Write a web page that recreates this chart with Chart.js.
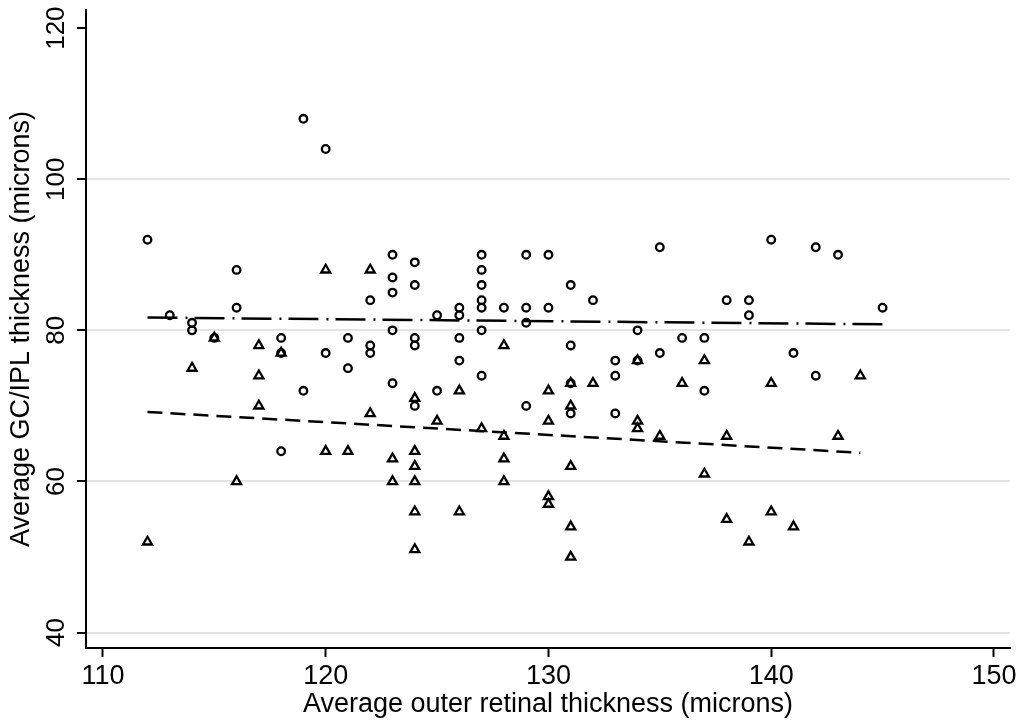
<!DOCTYPE html>
<html>
<head>
<meta charset="utf-8">
<script src="https://cdn.jsdelivr.net/npm/chart.js@4.4.1/dist/chart.umd.min.js"></script>
<style>
  html, body { margin: 0; padding: 0; background: #fff; }
  #wrap { width: 1026px; height: 726px; }
</style>
</head>
<body>
<div id="wrap"><canvas id="scatter" width="1026" height="726"></canvas></div>
<script>
// group 1 (hollow circles)
const circleX = [112, 113, 114, 114, 115, 116, 116, 118, 118, 118, 119, 119, 120, 120, 121, 121,
    122, 122, 122, 123, 123, 123, 123, 123, 124, 124, 124, 124, 124, 125, 125,
    126, 126, 126, 126, 127, 127, 127, 127, 127, 127, 127, 128, 129, 129, 129, 129,
    130, 130, 131, 131, 131, 131, 132, 133, 133, 133, 134, 134, 135, 135, 136,
    137, 137, 138, 139, 139, 140, 141, 142, 142, 143, 145];
const circleY = [92, 82, 81, 80, 79, 88, 83, 79, 77, 64, 108, 72, 104, 77, 79, 75,
    84, 78, 77, 90, 87, 85, 80, 73, 89, 86, 79, 78, 70, 82, 72,
    83, 82, 79, 76, 90, 88, 86, 84, 83, 80, 74, 83, 90, 83, 81, 70,
    90, 83, 86, 78, 73, 69, 84, 76, 74, 69, 80, 76, 91, 77, 79,
    79, 72, 84, 84, 82, 92, 77, 91, 74, 90, 83];

// group 2 (hollow triangles)
const triX = [112, 114, 115, 116, 117, 117, 117, 118, 120, 120, 121, 122, 122, 123, 123,
    124, 124, 124, 124, 124, 124, 125, 126, 126, 127, 128, 128, 128, 128,
    130, 130, 130, 130, 131, 131, 131, 131, 131, 132, 134, 134, 134, 135, 136,
    137, 137, 138, 138, 139, 140, 140, 141, 143, 144];
const triY = [52, 75, 79, 60, 78, 74, 70, 77, 88, 64, 64, 88, 69, 63, 60,
    71, 64, 62, 60, 56, 51, 68, 72, 56, 67, 78, 66, 63, 60,
    72, 68, 58, 57, 73, 70, 62, 54, 50, 73, 76, 68, 67, 66, 73,
    76, 61, 66, 55, 52, 73, 56, 54, 66, 74];

// fitted lines (end points)
const fitCircleX = [112, 145];
const fitCircleY = [81.7, 80.8];
const fitTriX = [112, 144];
const fitTriY = [69.2, 63.8];

const xTicks = [110, 120, 130, 140, 150];
const yTicks = [40, 60, 80, 100, 120];

const FONT = '"Liberation Sans", Arial, Helvetica, sans-serif';

function toPoints(xs, ys) {
    return xs.map((x, i) => ({ x: x, y: ys[i] }));
}

// y tick labels are rotated like the title
const rotatedYTicks = {
    id: 'rotatedYTicks',
    afterDraw(chart) {
        const y = chart.scales.y;
        const ctx = chart.ctx;
        ctx.save();
        ctx.font = '26px ' + FONT;
        ctx.fillStyle = '#000';
        ctx.textAlign = 'center';
        ctx.textBaseline = 'alphabetic';
        yTicks.forEach(v => {
            ctx.save();
            ctx.translate(64, y.getPixelForValue(v));
            ctx.rotate(-Math.PI / 2);
            ctx.fillText(String(v), 0, 0);
            ctx.restore();
        });
        ctx.restore();
    }
};

new Chart(document.getElementById('scatter'), {
    type: 'scatter',
    data: {
        datasets: [
            {
                data: toPoints(circleX, circleY),
                pointStyle: 'circle',
                pointRadius: 3.8,
                pointBorderWidth: 2.3,
                pointBorderColor: '#000',
                pointBackgroundColor: 'rgba(0,0,0,0)'
            },
            {
                data: toPoints(triX, triY),
                pointStyle: 'triangle',
                pointRadius: 5.2,
                pointBorderWidth: 2.3,
                pointBorderColor: '#000',
                pointBackgroundColor: 'rgba(0,0,0,0)'
            },
            {
                type: 'line',
                data: toPoints(fitCircleX, fitCircleY),
                borderColor: '#000',
                borderWidth: 2.5,
                borderDash: [30, 8, 2, 7],
                pointRadius: 0,
                fill: false
            },
            {
                type: 'line',
                data: toPoints(fitTriX, fitTriY),
                borderColor: '#000',
                borderWidth: 2.5,
                borderDash: [15, 8],
                pointRadius: 0,
                fill: false
            }
        ]
    },
    options: {
        responsive: false,
        animation: false,
        events: [],
        layout: { padding: { top: 10, right: 16, left: 0, bottom: 0 } },
        plugins: {
            legend: { display: false },
            tooltip: { enabled: false }
        },
        scales: {
            x: {
                type: 'linear',
                position: 'bottom',
                min: 109.24,
                max: 150.72,
                afterBuildTicks: s => { s.ticks = xTicks.map(v => ({ value: v })); },
                afterFit: s => { s.height = 78; },
                border: { color: '#000', width: 2 },
                grid: {
                    drawOnChartArea: false,
                    drawTicks: true,
                    tickLength: 9,
                    tickColor: '#000',
                    tickWidth: 2
                },
                ticks: {
                    color: '#000',
                    padding: 3,
                    maxRotation: 0,
                    font: { family: FONT, size: 27 }
                },
                title: {
                    display: true,
                    text: 'Average outer retinal thickness (microns)',
                    color: '#000',
                    font: { family: FONT, size: 27 },
                    padding: { top: 0, bottom: 5 }
                }
            },
            y: {
                type: 'linear',
                min: 37.96,
                max: 122.4,
                afterBuildTicks: s => { s.ticks = yTicks.map(v => ({ value: v })); },
                afterFit: s => { s.width = 86; },
                border: { color: '#000', width: 2 },
                grid: {
                    color: c => (c.tick && c.tick.value === 120) ? 'rgba(0,0,0,0)' : '#e3e3e3',
                    lineWidth: 2,
                    drawTicks: true,
                    tickLength: 9,
                    tickColor: '#000',
                    tickWidth: 2
                },
                ticks: { display: false },
                title: {
                    display: true,
                    text: 'Average GC/IPL thickness (microns)',
                    color: '#000',
                    font: { family: FONT, size: 27 },
                    padding: { top: 5, bottom: 0 }
                }
            }
        }
    },
    plugins: [rotatedYTicks]
});
</script>
</body>
</html>
